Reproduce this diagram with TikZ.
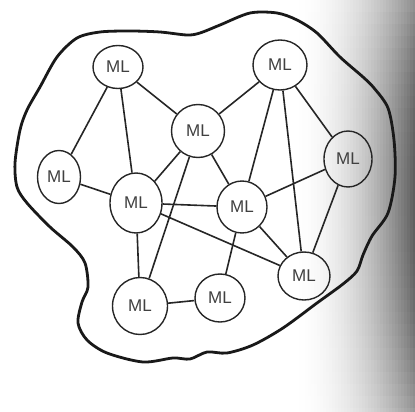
\documentclass[tikz,border=0pt]{standalone}
\usepackage{fontspec}
\setmainfont{Liberation Sans}
\usetikzlibrary{shapes.geometric,backgrounds}
\begin{document}
\begin{tikzpicture}[x=1pt,y=-1pt,
  ml/.style={ellipse,draw=black!85,line width=1.4pt,inner sep=0pt,
    font=\fontsize{17}{17}\selectfont,text=black!75},
  link/.style={draw=black!85,line width=1.6pt},
  rim/.style={draw=black!90,line width=2.8pt}]
\useasboundingbox (0,0) rectangle (415,412);
\foreach \sx in {290,293,...,414}{
  \foreach \sy in {0,12,...,408}{
    \pgfmathsetmacro\gv{65*((\sx-290)/125)^2*(1-0.35*((\sy+6-200)/210)^2)}
    \fill[black!\gv] (\sx,\sy) rectangle (\sx+3.3,\sy+12.3);
  }
}
\node[ml,minimum width=50pt,minimum height=43pt] (A) at (118,67) {ML};
\node[ml,minimum width=54pt,minimum height=50pt] (B) at (280,65) {ML};
\node[ml,minimum width=53pt,minimum height=53pt] (C) at (198,131) {ML};
\node[ml,minimum width=43pt,minimum height=53pt] (D) at (59,177) {ML};
\node[ml,minimum width=52pt,minimum height=60pt] (E) at (136,203) {ML};
\node[ml,minimum width=50pt,minimum height=52pt] (F) at (242,207) {ML};
\node[ml,minimum width=48pt,minimum height=56pt] (G) at (348,159) {ML};
\node[ml,minimum width=52pt,minimum height=48pt] (H) at (304,276) {ML};
\node[ml,minimum width=55pt,minimum height=57pt] (I) at (140,306) {ML};
\node[ml,minimum width=50pt,minimum height=48pt] (J) at (220,298) {ML};
\begin{scope}[link]
\draw (A) -- (D);
\draw (A) -- (E);
\draw (A) -- (C);
\draw (B) -- (C);
\draw (B) -- (F);
\draw (B) -- (H);
\draw (B) -- (G);
\draw (C) -- (E);
\draw (C) -- (I);
\draw (C) -- (F);
\draw (D) -- (E);
\draw (E) -- (F);
\draw (E) -- (H);
\draw (E) -- (I);
\draw (F) -- (G);
\draw (F) -- (H);
\draw (F) -- (J);
\draw (G) -- (H);
\draw (I) -- (J);
\end{scope}
\draw[rim] plot[smooth cycle,tension=0.5] coordinates {
(187,35) (160,32) (130,31) (100,32) (77,38) (57,57) (40,87) (27,110)
(20,130) (15,163) (17,187) (27,203) (50,227) (73,247) (85,263) (88,287)
(82,302) (78,323) (87,340) (107,353) (143,362) (173,358) (190,359)
(207,352) (227,353) (253,345) (283,328) (317,303) (343,284) (357,271)
(363,255) (372,236) (388,213) (395,177) (394,140) (388,108) (374,88)
(363,77) (340,57) (317,33) (297,20) (277,13) (250,13) (220,25) (200,33)};
\end{tikzpicture}
\end{document}
